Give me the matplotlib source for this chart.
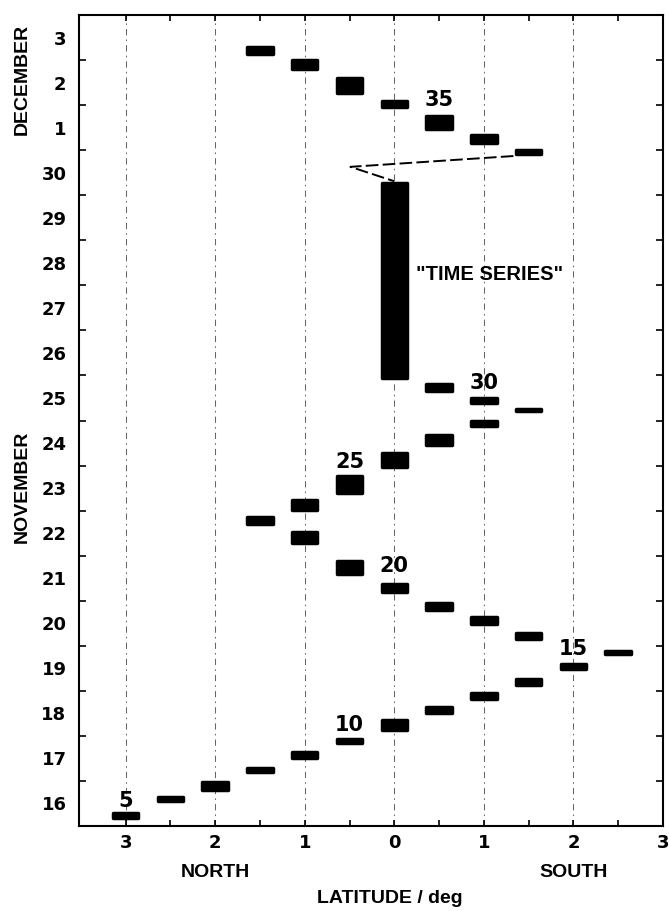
import matplotlib

matplotlib.use("Agg")
import matplotlib.pyplot as plt
import numpy as np


# Latitude of each observation (deg, north negative, south positive)
BAR_LAT = [-3.0, -2.5, -2.0, -1.5, -1.0, -0.5, 0.0, 0.5, 1.0, 1.5, 2.0, 2.5,
           1.5, 1.0, 0.5, 0.0, -0.5, -1.0, -1.5, -1.0, -0.5, 0.0, 0.5, 1.0,
           1.5, 1.0, 0.5, 0.0,
           1.5, 1.0, 0.5, 0.0, -0.5, -1.0, -1.5]
# Start / end of each observation, in days counted from 1 November (31 = 1 December)
BAR_START = [16.13, 16.51, 16.76, 17.16, 17.47, 17.80, 18.09, 18.47, 18.78, 19.09, 19.44, 19.78,
             20.11, 20.44, 20.76, 21.16, 21.56, 22.24, 22.67, 22.98, 23.36, 23.93, 24.42, 24.84,
             25.18, 25.36, 25.62, 25.91,
             30.87, 31.11, 31.44, 31.91, 32.22, 32.76, 33.09]
BAR_END = [16.33, 16.69, 17.02, 17.33, 17.69, 17.96, 18.40, 18.69, 18.98, 19.31, 19.64, 19.93,
           20.33, 20.67, 20.98, 21.42, 21.91, 22.56, 22.89, 23.27, 23.80, 24.31, 24.71, 25.02,
           25.29, 25.53, 25.84, 30.31,
           31.04, 31.38, 31.80, 32.13, 32.64, 33.04, 33.33]

# Numbered annotations
LABEL_TEXT = ["5", "10", "15", "20", "25", "30", "35"]
LABEL_LAT = [-3.0, -0.5, 2.0, 0.0, -0.5, 1.0, 0.5]
LABEL_DAY = [16.56, 18.24, 19.93, 21.76, 24.09, 25.84, 32.11]

# Dashed link between the time series and the next observation
LINK_LAT = [1.33, -0.49, 0.0]
LINK_DAY = [30.87, 30.63, 30.31]

LAT_TICKS = [-3, -2, -1, 0, 1, 2, 3]
LAT_LABELS = ["3", "2", "1", "0", "1", "2", "3"]
DAY_LABELS = ["16", "17", "18", "19", "20", "21", "22", "23", "24", "25",
              "26", "27", "28", "29", "30", "1", "2", "3"]

WORD_FONT = ["Liberation Sans", "DejaVu Sans"]


def main():
    plt.rcParams["font.family"] = ["DejaVu Sans"]
    fig = plt.figure(figsize=(6.69, 9.11), dpi=100)
    ax = fig.add_axes([79 / 669, 85 / 911, 584 / 669, 811 / 911])

    ax.set_xlim(-3.52, 3.0)
    ax.set_ylim(16, 34)

    # bars drawn with a round-joined edge, so shrink the face by the edge width
    edge_lw = 2.5
    px_x = 584 / 6.52
    px_y = 811 / 18
    edge_px = edge_lw * 100 / 72
    starts = np.array(BAR_START)
    heights = np.array(BAR_END) - starts
    ax.bar(BAR_LAT, heights - edge_px / px_y, width=29 / px_x - edge_px / px_x,
           bottom=starts + edge_px / px_y / 2, color="black", edgecolor="black",
           linewidth=edge_lw, joinstyle="round", zorder=3)

    for x in LAT_TICKS[:-1]:
        ax.axvline(x, color="0.4", lw=0.75, ls=(0, (6, 4, 1.5, 4)), zorder=1)

    ax.plot(LINK_LAT, LINK_DAY, color="black", lw=1.4, ls=(0, (6.5, 2.2)), zorder=2)

    for text, lat, day in zip(LABEL_TEXT, LABEL_LAT, LABEL_DAY):
        ax.text(lat, day, text, ha="center", va="center", fontsize=15, fontweight="bold")

    ax.text(1.06, 28.25, '"TIME SERIES"', ha="center", va="center", fontsize=14.5,
            fontweight="bold", family=WORD_FONT)

    # axes and ticks
    ax.set_xticks(LAT_TICKS, LAT_LABELS)
    ax.set_xticks(np.arange(-2.5, 3.0, 1.0), minor=True)
    ax.tick_params(axis="x", which="both", direction="in", top=True, bottom=True,
                   length=4, width=1.2, pad=6, labelsize=13)
    for lab in ax.get_xticklabels():
        lab.set_fontweight("bold")

    ax.set_yticks(np.arange(16, 35))
    ax.set_yticklabels([])
    ax.set_yticks(np.arange(16.5, 34, 1.0), DAY_LABELS, minor=True)
    ax.tick_params(axis="y", which="major", direction="in", left=True, right=True,
                   length=5, width=1.2)
    ax.tick_params(axis="y", which="minor", length=0, pad=9, labelsize=13)
    for lab in ax.get_yticklabels(minor=True):
        lab.set_fontweight("bold")

    for side in ax.spines.values():
        side.set_linewidth(1.5)

    xt = ax.get_xaxis_transform()
    ax.text(-2.0, -0.057, "NORTH", transform=xt, ha="center", va="center",
            fontsize=14, fontweight="bold", family=WORD_FONT)
    ax.text(2.0, -0.057, "SOUTH", transform=xt, ha="center", va="center",
            fontsize=14, fontweight="bold", family=WORD_FONT)
    ax.text(-0.05, -0.09, "LATITUDE / deg", transform=xt, ha="center", va="center",
            fontsize=14, fontweight="bold", family=WORD_FONT)

    yt = ax.get_yaxis_transform()
    ax.text(-0.098, 32.56, "DECEMBER", transform=yt, rotation=90, ha="center", va="center",
            fontsize=14, fontweight="bold", family=WORD_FONT)
    ax.text(-0.098, 23.53, "NOVEMBER", transform=yt, rotation=90, ha="center", va="center",
            fontsize=14, fontweight="bold", family=WORD_FONT)

    fig.savefig("out.png", dpi=100)
    plt.close(fig)


if __name__ == "__main__":
    main()
